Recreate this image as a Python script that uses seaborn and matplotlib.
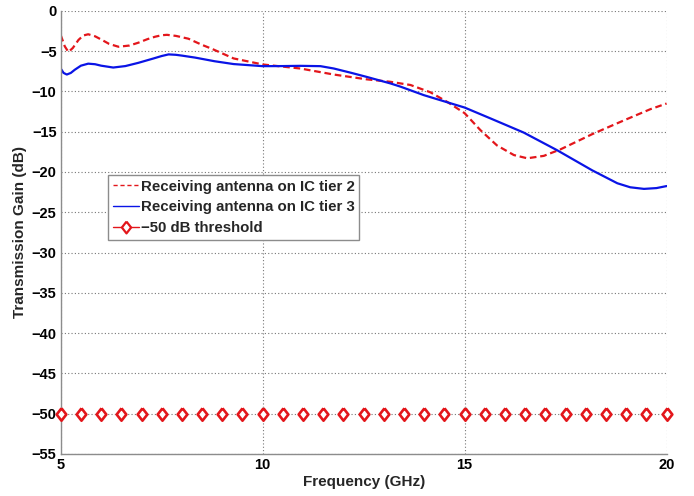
"""
IC tier 2 / tier 3 수신 안테나 전송 이득 (Transmission Gain vs Frequency)
"""
import numpy as np
import pandas as pd
import matplotlib
matplotlib.use('Agg')
import matplotlib.pyplot as plt
from matplotlib.lines import Line2D
import seaborn as sns

# ── 데이터 ────────────────────────────────────────────
tier2_freq = [5.00, 5.10, 5.19, 5.30, 5.44, 5.56, 5.68, 5.85, 6.02, 6.20,
              6.43, 6.70, 6.92, 7.15, 7.34, 7.50, 7.63, 7.85, 8.16, 8.49,
              8.74, 9.28, 10.00, 10.93, 11.76, 12.58, 13.16, 13.66, 14.15, 14.57,
              15.00, 15.39, 15.80, 16.22, 16.55, 16.96, 17.37, 18.16, 18.94, 19.60,
              20.00]
tier2_gain = [-3.0, -4.4, -5.1, -4.6, -3.6, -3.05, -2.9, -3.15, -3.6, -4.1,
              -4.45, -4.3, -3.95, -3.5, -3.2, -3.02, -2.97, -3.1, -3.45, -4.2,
              -4.7, -5.9, -6.65, -7.15, -7.9, -8.5, -8.8, -9.2, -10.1, -11.3,
              -12.7, -14.8, -16.7, -17.9, -18.3, -18.0, -17.2, -15.3, -13.6, -12.2,
              -11.5]

tier3_freq = [5.00, 5.07, 5.15, 5.25, 5.35, 5.50, 5.68, 5.85, 6.00, 6.30,
              6.60, 6.92, 7.30, 7.50, 7.67, 7.85, 8.00, 8.33, 8.81, 9.28,
              10.00, 10.50, 10.93, 11.43, 11.76, 12.20, 12.58, 13.16, 13.41, 13.99,
              15.00, 15.64, 16.46, 17.29, 18.16, 18.78, 19.10, 19.44, 19.75, 20.00]
tier3_gain = [-7.15, -7.7, -7.9, -7.7, -7.3, -6.8, -6.55, -6.62, -6.8, -7.03,
              -6.85, -6.45, -5.9, -5.6, -5.4, -5.45, -5.55, -5.8, -6.25, -6.6,
              -6.86, -6.85, -6.82, -6.86, -7.15, -7.7, -8.2, -9.0, -9.4, -10.46,
              -12.0, -13.35, -15.1, -17.3, -19.8, -21.4, -21.9, -22.1, -22.0, -21.75]

thr_freq = [5.0, 5.5, 6.0, 6.5, 7.0, 7.5, 8.0, 8.5, 9.0, 9.5, 10.0,
            10.5, 11.0, 11.5, 12.0, 12.5, 13.0, 13.5, 14.0, 14.5, 15.0,
            15.5, 16.0, 16.5, 17.0, 17.5, 18.0, 18.5, 19.0, 19.5, 20.0]
thr_gain = [-50] * len(thr_freq)

labels = ['Receiving antenna on IC tier 2',
          'Receiving antenna on IC tier 3',
          '\u221250 dB threshold']
x_ticks = [5, 10, 15, 20]
y_ticks = [0, -5, -10, -15, -20, -25, -30, -35, -40, -45, -50, -55]

# ── 스타일 ──────────────────────────────────────────────────
sns.set_theme(style='white')
plt.rcParams['font.family'] = ['Liberation Sans', 'DejaVu Sans']
plt.rcParams['font.weight'] = 'bold'

red = '#e3161b'
blue = '#0a14e6'
gray = '#8c8c8c'
diamond = [(0, 1), (0.78, 0), (0, -1), (-0.78, 0), (0, 1)]

df2 = pd.DataFrame({'f': tier2_freq, 'g': tier2_gain})
df3 = pd.DataFrame({'f': tier3_freq, 'g': tier3_gain})
dft = pd.DataFrame({'f': thr_freq, 'g': thr_gain})

fig = plt.figure(figsize=(6.94, 4.96), dpi=100)
ax = fig.add_axes([0.0875, 0.085, 0.873, 0.893])

sns.lineplot(data=df2, x='f', y='g', ax=ax, color=red, linewidth=1.6,
             dashes=(3, 1.7), sort=False)
sns.lineplot(data=df3, x='f', y='g', ax=ax, color=blue, linewidth=1.6,
             sort=False)
sns.scatterplot(data=dft, x='f', y='g', ax=ax, marker=diamond, s=80,
                facecolor='white', edgecolor=red, linewidth=1.9, zorder=3,
                clip_on=False)

ax.set_xlim(5, 20)
ax.set_ylim(-55, 0)
ax.set_xticks(x_ticks)
ax.set_yticks(y_ticks)
ax.set_yticklabels([str(v).replace('-', '\u2212') for v in y_ticks])
ax.set_xlabel('Frequency (GHz)', fontsize=11, fontweight='bold', labelpad=2)
ax.set_ylabel('Transmission Gain (dB)', fontsize=11, fontweight='bold', labelpad=3)

ax.grid(True, linestyle=(0, (1, 2)), color='#777777', linewidth=0.8)
ax.set_axisbelow(True)
for s in ['top', 'right']:
    ax.spines[s].set_visible(False)
for s in ['left', 'bottom']:
    ax.spines[s].set_color(gray)
    ax.spines[s].set_linewidth(1.0)
ax.tick_params(direction='in', length=4, color=gray, labelsize=10.5,
               labelcolor='black', pad=3)
for t in ax.get_xticklabels() + ax.get_yticklabels():
    t.set_fontweight('bold')

handles = [
    Line2D([], [], color=red, linestyle='--', linewidth=1.0, dashes=(3, 2)),
    Line2D([], [], color=blue, linestyle='-', linewidth=1.0),
    Line2D([], [], color=red, linestyle='-', linewidth=1.0, marker=diamond,
           markersize=8.5, markerfacecolor='white', markeredgewidth=1.6),
]
leg = ax.legend(handles, labels, loc='upper left',
                bbox_to_anchor=(108 / 694, 1 - 175 / 496),
                bbox_transform=fig.transFigure, borderaxespad=0,
                frameon=True, fancybox=False, framealpha=1,
                edgecolor=gray, fontsize=10.8, handlelength=1.75,
                handletextpad=0.15, labelspacing=0.45, borderpad=0.3)
leg.get_frame().set_linewidth(1.0)
for t in leg.get_texts():
    t.set_fontweight('bold')

fig.savefig('out.png', dpi=100)
